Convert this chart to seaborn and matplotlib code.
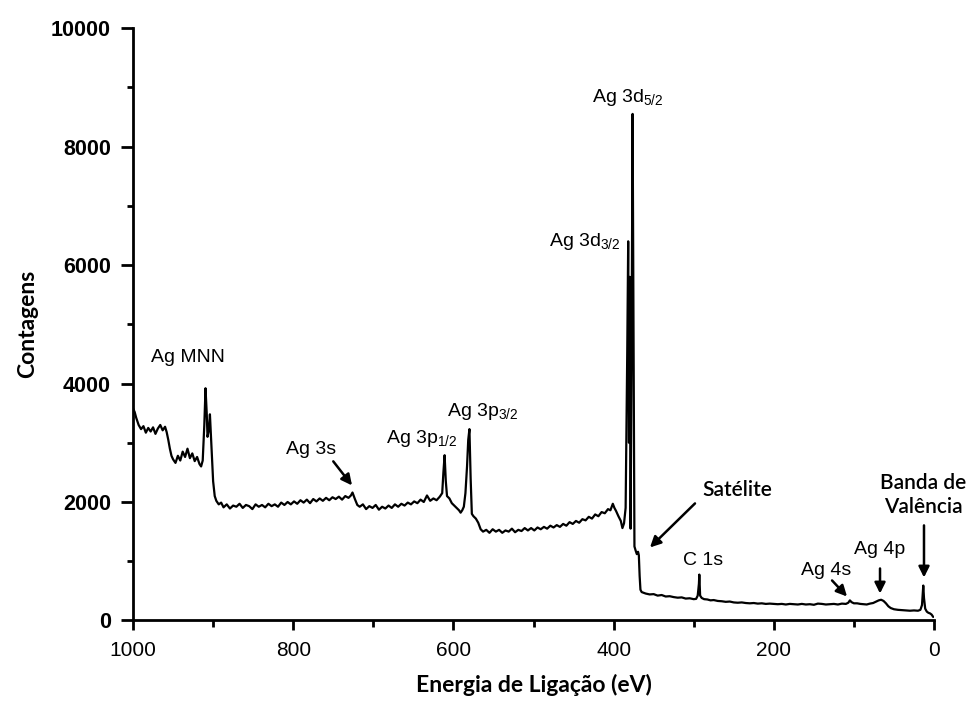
import matplotlib
matplotlib.use("Agg")
import matplotlib.pyplot as plt
from matplotlib.ticker import MultipleLocator
import seaborn as sns
import pandas as pd

# ---- data (binding energy in eV, counts) ----
energy_mnn = [1000, 998, 996, 993, 990, 987, 984, 981, 978, 975, 972, 969, 966, 963, 960, 958,
              956, 954, 952, 950,
              947, 944, 941, 938, 935, 932, 929, 926, 923, 920, 917,
              915, 913, 911, 909.5, 908, 907, 905.5, 904, 902, 900, 898, 896, 893, 890]
counts_mnn = [3580, 3520, 3420, 3300, 3230, 3280, 3170, 3250, 3190, 3260, 3150, 3240, 3300, 3210, 3270, 3180,
              3050, 2900, 2780, 2720,
              2660, 2780, 2700, 2850, 2760, 2900, 2740, 2820, 2690, 2760, 2640,
              2600, 2700, 3300, 3920, 3500, 3100, 3200, 3480, 2900, 2350, 2100, 2020, 1960, 1990]

energy_3s = [887, 883, 879, 875, 871, 867, 863, 859, 855, 851, 847, 843, 839, 835, 831, 827, 823, 819,
             815, 811, 807, 803, 799, 795, 791, 787, 783, 779, 775, 771, 767, 763, 759, 755, 751, 747,
             743, 739, 735, 731, 728, 726,
             723, 720, 717, 713, 709, 705, 701, 697, 693, 689, 685, 681, 677, 673, 669, 665, 661, 657,
             653, 649, 645, 641, 637, 633, 629, 625, 621, 617]
counts_3s = [1910, 1960, 1890, 1940, 1920, 1970, 1900, 1950, 1930, 1880, 1960, 1920, 1950, 1910, 1970, 1930,
             1960, 1920, 1990, 1950, 2000, 1960, 2010, 1970, 2030, 1990, 2040, 1980, 2050, 2010, 2060, 2020,
             2070, 2030, 2080, 2050, 2090, 2040, 2100, 2070, 2110, 2160,
             2050, 1950, 1920, 1960, 1880, 1930, 1900, 1950, 1870, 1920, 1890, 1940, 1900, 1960, 1920, 1970,
             1940, 1990, 1960, 2010, 1980, 2040, 2000, 2110, 2020, 2060, 2030, 2090]

energy_3p = [614, 612.5, 611, 609.5, 608, 605, 602, 599, 596, 593, 591, 589, 587, 585, 583, 581.5, 580,
             578.5, 577, 575, 572, 569, 566, 563]
counts_3p = [2150, 2500, 2790, 2350, 2100, 2060, 1980, 1940, 1900, 1860, 1820, 1860, 1920, 2150, 2600, 3050,
             3230, 2400, 1800, 1760, 1720, 1650, 1540, 1500]

energy_bg = [559, 555, 551, 547, 543, 539, 535, 531, 527, 523, 519, 515, 511, 507, 503, 499, 495, 491, 487,
             483, 479, 475, 471, 467, 463, 459, 455, 451, 447, 443, 439, 435, 431, 427, 423, 419, 415, 411,
             407, 404, 401, 399, 397, 394, 391, 389, 387]
counts_bg = [1530, 1480, 1540, 1500, 1530, 1480, 1520, 1500, 1550, 1490, 1530, 1510, 1560, 1520, 1560, 1520,
             1570, 1540, 1580, 1550, 1600, 1570, 1610, 1580, 1630, 1600, 1660, 1630, 1680, 1650, 1710, 1690,
             1750, 1720, 1790, 1760, 1830, 1810, 1880, 1860, 1970, 1900, 1850, 1760, 1680, 1560, 1640]

energy_3d = [385, 383, 381.8, 380.8, 379.8, 378.8, 377.5, 376.3, 375.2, 374, 372.5, 371, 369.5, 368.5,
             367.5, 366.5, 365, 363]
counts_3d = [1900, 4500, 6400, 3000, 5800, 1550, 4800, 8550, 5000, 1250, 1180, 1120, 1160, 1100,
             750, 520, 480, 470]

energy_low = [360, 355, 350, 345, 340, 335, 330, 325, 320, 315, 310, 305, 300, 297, 295, 293.5, 293, 292,
              290, 287, 283, 279, 275, 270, 265, 260, 255, 250, 245, 240, 235, 230, 225, 220, 215, 210,
              205, 200, 195, 190, 185, 180, 175, 170, 165, 160, 155, 150, 145, 140, 135, 130, 125, 120,
              115, 110, 107, 105, 103, 100, 96, 92, 88, 84, 80, 76, 72, 69, 66, 63, 60, 57, 54, 50, 45,
              40, 35, 30, 25, 20, 17, 15, 14, 13.4, 12.5, 11, 9, 7, 5, 3, 1]
counts_low = [455, 440, 445, 420, 430, 405, 410, 395, 385, 390, 370, 375, 360, 365, 420, 620, 775, 420,
              380, 360, 355, 340, 345, 330, 325, 315, 320, 305, 300, 305, 295, 290, 295, 285, 290, 280,
              285, 280, 275, 280, 270, 280, 275, 270, 280, 270, 275, 265, 285, 280, 270, 275, 280, 270,
              285, 280, 300, 340, 310, 290, 290, 280, 275, 270, 285, 295, 320, 340, 350, 330, 290, 240,
              210, 190, 180, 175, 170, 165, 170, 165, 180, 260, 450, 590, 380, 200, 150, 130, 120, 100, 60]

energy = energy_mnn + energy_3s + energy_3p + energy_bg + energy_3d + energy_low
counts = counts_mnn + counts_3s + counts_3p + counts_bg + counts_3d + counts_low
df = pd.DataFrame({"energy": energy, "counts": counts})

x_ticks = [1000, 800, 600, 400, 200, 0]
y_ticks = [0, 2000, 4000, 6000, 8000, 10000]

# ---- styling ----
sns.set_style("ticks")
plt.rcParams["font.family"] = ["Liberation Sans", "DejaVu Sans"]
plt.rcParams["mathtext.fontset"] = "custom"
plt.rcParams["mathtext.rm"] = "Liberation Sans"
plt.rcParams["text.color"] = "black"
plt.rcParams["axes.labelcolor"] = "black"

fig = plt.figure(figsize=(9.71, 7.02), dpi=100)
ax = fig.add_axes([0.1370, 0.1161, 0.8249, 0.8440])

sns.lineplot(data=df, x="energy", y="counts", ax=ax, color="black", lw=1.6,
             sort=False, estimator=None)

ax.set_xlim(1000, 0)
ax.set_ylim(0, 10000)
ax.set_xticks(x_ticks)
ax.set_xticklabels([str(v) for v in x_ticks])
ax.set_yticks(y_ticks)
ax.set_yticklabels([str(v) for v in y_ticks])
ax.xaxis.set_minor_locator(MultipleLocator(100))
ax.yaxis.set_minor_locator(MultipleLocator(1000))

for s in ["top", "right"]:
    ax.spines[s].set_visible(False)
for s in ["left", "bottom"]:
    ax.spines[s].set_linewidth(2)
    ax.spines[s].set_color("black")

ax.tick_params(axis="y", which="major", length=9, width=2, direction="out", labelsize=15.5, pad=7, colors="black")
ax.tick_params(axis="y", which="minor", length=4, width=2, direction="out", colors="black")
ax.tick_params(axis="x", which="major", length=7, width=2, direction="out", labelsize=15, pad=8, colors="black")
ax.tick_params(axis="x", which="minor", length=5, width=2, direction="out", colors="black")
for lbl in ax.get_yticklabels():
    lbl.set_fontweight("bold")

ax.set_xlabel("Energia de Ligação (eV)", fontfamily="Lato", fontweight="bold", fontsize=16.5,
              labelpad=10, color="black")
ax.set_ylabel("Contagens", fontfamily="Lato", fontweight="bold", fontsize=16.5, labelpad=9, color="black")

lab = dict(fontsize=14, color="black", ha="center", va="center", fontfamily="Liberation Sans")
ax.text(932, 4443, "Ag MNN", **lab)
ax.text(640, 3075, r"Ag 3p$_{\mathregular{1/2}}$", **lab)
ax.text(563, 3530, r"Ag 3p$_{\mathregular{3/2}}$", **lab)
ax.text(383, 8830, r"Ag 3d$_{\mathregular{5/2}}$", **lab)
ax.text(436, 6400, r"Ag 3d$_{\mathregular{3/2}}$", **lab)
ax.text(288, 1013, "C 1s", **lab)

arrow = dict(arrowstyle="-|>", color="black", lw=1.8, mutation_scale=16, shrinkA=0, shrinkB=0)
ax.text(778, 2890, "Ag 3s", **lab)
ax.annotate("", xy=(726.6, 2280), xytext=(750, 2686), arrowprops=arrow)
ax.text(135, 845, "Ag 4s", **lab)
ax.annotate("", xy=(108.6, 405), xytext=(127.3, 676), arrowprops=arrow)
ax.text(67.4, 1200, "Ag 4p", **lab)
ax.annotate("", xy=(67.4, 456), xytext=(67.4, 878), arrowprops=arrow)

cal = dict(fontsize=15, color="black", ha="center", va="center", fontfamily="Lato", fontweight="semibold")
ax.text(245, 2196, "Satélite", **cal)
ax.annotate("", xy=(354.6, 1233), xytext=(298.4, 1976), arrowprops=arrow)
ax.text(13.7, 2110, "Banda de\nValência", linespacing=1.25, clip_on=False, **cal)
ax.annotate("", xy=(12.5, 726), xytext=(12.5, 1605), arrowprops=arrow)

fig.savefig("out.png", dpi=100, facecolor="white")
